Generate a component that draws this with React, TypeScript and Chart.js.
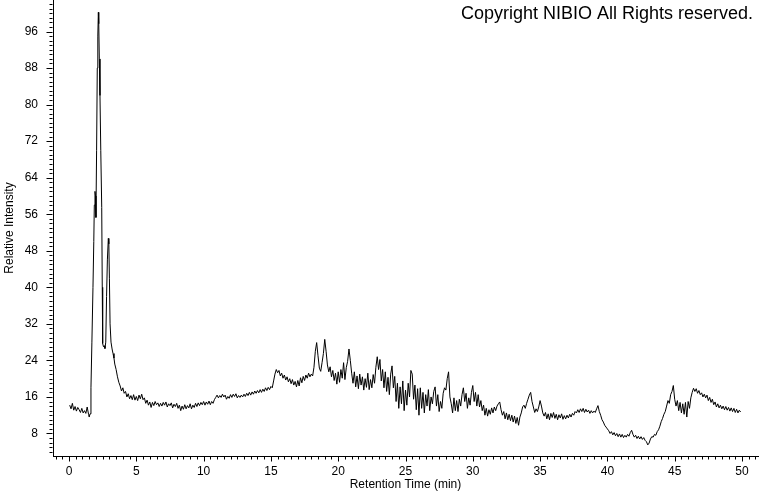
import React, { useEffect, useRef } from "react";
import { Chart, registerables } from "chart.js";

Chart.register(...registerables);

// ---- text ----
const COPYRIGHT_TEXT = "Copyright NIBIO All Rights reserved.";
const X_TITLE = "Retention Time (min)";
const Y_TITLE = "Relative Intensity";

// ---- axis ranges / tick steps ----
const X_MIN = -1.19;
const X_MAX = 51.19;
const Y_MIN = 3.07;
const Y_MAX = 102.9;
const X_LABEL_STEP = 5;
const X_MINOR_STEP = 0.5;
const Y_LABEL_STEP = 8;
const Y_MINOR_STEP = 1;

// ---- data (relative intensity vs retention time, min) ----
// baseline before the solvent peaks: t = 0.05 .. 1.45, every 0.1 min
const BASE_START = 0.05;
const BASE_STEP = 0.1;
const baselineStart = [14.2, 13.4, 14.6, 13.1, 13.9, 12.9, 13.7, 13.2, 12.6, 13.5, 12.5, 13.0, 12.4, 13.8, 12.2];

// the large early peaks (irregular sampling)
const peakTimes = [1.5, 1.56, 1.63, 1.7, 1.78, 1.84, 1.88, 1.93, 1.97, 2.0, 2.05, 2.1, 2.14, 2.18, 2.21, 2.25, 2.3, 2.36, 2.43, 2.47, 2.5, 2.56, 2.62, 2.67, 2.73, 2.79, 2.85, 2.92, 2.96, 3.0, 3.05, 3.12, 3.2, 3.27, 3.34];
const peakIntensity = [11.6, 12.3, 18.0, 28.0, 40.0, 50.0, 58.0, 61.0, 60.0, 55.3, 70.0, 88.0, 95.0, 100.2, 97.7, 90.0, 82.0, 70.0, 57.5, 40.0, 27.7, 27.0, 27.2, 26.6, 28.0, 38.0, 46.0, 50.7, 49.5, 42.0, 32.0, 28.0, 26.5, 25.5, 24.5];

// remainder of the trace: t = 3.4 .. 49.9, every 0.1 min
const TAIL_START = 3.4;
const TAIL_STEP = 0.1;
const trace3to10 = [
  23.2, 22.0, 20.4, 19.2, 18.4, 17.3, 18.0,
  16.8, 17.2, 16.0, 16.7, 15.6, 16.3, 15.4, 16.5, 15.3, 16.1,
  15.2, 16.4, 15.6, 16.6, 15.4, 15.8, 14.6, 15.3, 14.2, 14.9,
  13.7, 14.8, 14.1, 15.0, 14.3, 14.7, 13.9, 14.6, 14.0, 14.8,
  14.2, 14.9, 13.8, 14.5, 14.1, 14.7, 13.6, 14.4, 13.9, 14.6,
  13.5, 14.2, 13.0, 14.0, 13.3, 14.3, 13.4, 14.1, 13.6, 14.5,
  13.4, 14.2, 13.7, 14.6, 13.9, 14.7, 14.1, 14.8, 14.3, 15.0,
];
const trace10to20 = [
  14.2, 14.9, 14.4, 15.1, 14.3, 15.0, 14.6, 15.4, 15.9, 16.4,
  15.8, 16.3, 15.9, 16.6, 16.0, 16.4, 15.5, 16.1, 15.7, 16.5,
  15.9, 16.6, 16.1, 16.7, 15.8, 16.3, 15.9, 16.4, 16.0, 16.6,
  16.1, 16.8, 16.3, 17.0, 16.4, 17.1, 16.6, 17.3, 16.8, 17.4,
  16.9, 17.6, 17.0, 17.7, 17.2, 18.0, 17.4, 18.1, 17.6, 18.3,
  18.0, 19.5, 21.0, 22.0, 21.3, 21.8, 20.6, 21.2, 20.1, 20.8,
  19.7, 20.4, 19.3, 20.0, 18.9, 19.8, 18.6, 19.4, 18.2, 19.6,
  18.4, 20.2, 19.1, 20.5, 19.6, 20.8, 20.1, 21.2, 20.4, 21.0,
  20.6, 22.5, 26.0, 27.9, 25.0, 22.3, 21.6, 23.5, 25.5, 28.6,
  26.0, 23.0, 21.5, 22.6, 20.4, 21.8, 19.6, 21.2, 18.8, 21.5,
];
const trace20to30 = [
  19.2, 22.0, 20.1, 23.5, 19.8, 22.4, 23.8, 26.5, 24.0, 21.2,
  19.0, 21.5, 18.2, 20.6, 17.8, 21.0, 18.6, 20.4, 17.5, 20.0,
  18.1, 21.2, 17.6, 19.8, 18.0, 20.9, 19.0, 22.5, 24.8, 22.0,
  24.2, 19.5, 22.0, 18.0, 21.5, 17.2, 20.3, 16.5, 21.0, 22.8,
  18.0, 20.5, 15.0, 19.0, 13.5, 18.2, 14.5, 19.5, 13.0, 17.5,
  14.2, 19.0, 16.0, 21.8, 21.0, 15.5, 18.6, 13.2, 17.8, 12.0,
  18.0, 13.5, 17.0, 12.5, 16.5, 14.0, 17.6, 13.0, 16.0, 14.5,
  17.2, 18.2, 14.0, 16.5, 12.8, 15.0, 13.5, 16.8, 18.0, 17.5,
  20.0, 21.5, 16.0, 14.5, 12.5, 15.8, 13.0, 15.2, 12.8, 15.5,
  14.0, 16.5, 18.0, 15.0, 16.8, 13.5, 15.8, 14.2, 17.0, 18.5,
];
const trace30to40 = [
  15.0, 17.0, 14.0, 16.5, 13.8, 15.2, 13.0, 14.2, 12.0, 13.5,
  11.8, 13.2, 12.2, 13.6, 12.5, 13.8, 13.0, 14.0, 14.5, 14.9,
  13.2, 12.0, 12.8, 11.2, 12.5, 11.0, 12.2, 10.8, 12.0, 10.5,
  11.8, 10.2, 11.5, 9.8, 11.6, 12.5, 13.8, 14.2, 13.5, 14.6,
  15.5, 16.4, 17.0, 15.0, 13.8, 12.6, 13.4, 12.8, 13.8, 15.2,
  14.0, 12.5, 11.8, 12.6, 11.2, 12.3, 11.0, 12.4, 11.5, 12.6,
  11.3, 12.2, 11.0, 12.1, 11.4, 12.3, 11.1, 11.9, 11.2, 12.0,
  11.4, 12.2, 11.6, 12.4, 12.0, 12.8, 12.5, 13.2, 12.6, 13.4,
  12.8, 13.5, 12.6, 13.3, 12.7, 13.1, 12.4, 13.0, 12.5, 12.9,
  12.6, 13.4, 14.1, 12.8, 12.0, 11.0, 10.5, 9.8, 9.4, 9.0,
];
const trace40to50 = [
  8.6, 8.0, 8.4, 7.7, 8.2, 7.5, 8.0, 7.3, 7.9, 7.2,
  7.8, 7.1, 7.6, 7.2, 7.8, 7.4, 8.2, 8.7, 7.8, 7.2,
  7.6, 6.9, 7.4, 6.8, 7.3, 6.7, 7.1, 6.5, 6.2, 5.5,
  5.9, 6.8, 7.3, 7.2, 7.8, 7.6, 8.4, 8.8, 9.6, 10.6,
  11.3, 12.2, 12.8, 14.0, 15.2, 14.6, 16.5, 17.2, 18.5, 15.5,
  14.0, 15.2, 13.0, 14.8, 12.5, 14.5, 12.2, 14.8, 11.6, 15.0,
  13.5, 15.8, 17.0, 17.9, 17.2, 17.8, 16.8, 17.4, 16.5, 16.9,
  16.0, 16.6, 15.8, 16.4, 15.2, 15.9, 14.8, 15.5, 14.3, 14.9,
  13.8, 14.5, 13.6, 14.2, 13.4, 14.0, 13.2, 13.9, 13.1, 13.7,
  12.9, 13.6, 12.8, 13.5, 12.6, 13.3, 12.5, 13.1, 12.7,
];

const FONT_FAMILY = '"Liberation Sans", Arial, sans-serif';

function buildPoints() {
  const pts: { x: number; y: number }[] = [];
  baselineStart.forEach((v, i) => pts.push({ x: +(BASE_START + i * BASE_STEP).toFixed(3), y: v }));
  peakTimes.forEach((t, i) => pts.push({ x: t, y: peakIntensity[i] }));
  const tail = [...trace3to10, ...trace10to20, ...trace20to30, ...trace30to40, ...trace40to50];
  tail.forEach((v, i) => pts.push({ x: +(TAIL_START + i * TAIL_STEP).toFixed(3), y: v }));
  return pts;
}

const axisDecorPlugin = {
  id: "axisDecor",
  afterDraw(chart: any) {
    const { ctx, chartArea, scales } = chart;
    const xs = scales.x;
    const ys = scales.y;
    ctx.save();
    ctx.strokeStyle = "#000";
    ctx.lineWidth = 1;
    ctx.beginPath();
    const axisX = Math.round(chartArea.left) - 0.5;
    for (let k = Math.ceil(Y_MIN / Y_MINOR_STEP); k * Y_MINOR_STEP <= Y_MAX; k++) {
      const v = k * Y_MINOR_STEP;
      const py = Math.round(ys.getPixelForValue(v)) + 0.5;
      const len = v % Y_LABEL_STEP === 0 ? 6 : 3;
      ctx.moveTo(axisX, py);
      ctx.lineTo(axisX - len, py);
    }
    const axisY = Math.round(chartArea.bottom) + 0.5;
    for (let k = Math.ceil(X_MIN / X_MINOR_STEP); k * X_MINOR_STEP <= X_MAX; k++) {
      const v = k * X_MINOR_STEP;
      const px = Math.round(xs.getPixelForValue(v)) + 0.5;
      const len = Math.abs(v % X_LABEL_STEP) < 1e-9 ? 5 : 3;
      ctx.moveTo(px, axisY);
      ctx.lineTo(px, axisY + len);
    }
    ctx.stroke();
    ctx.fillStyle = "#000";
    ctx.font = `18px ${FONT_FAMILY}`;
    ctx.textAlign = "right";
    ctx.textBaseline = "middle";
    ctx.fillText(COPYRIGHT_TEXT, chartArea.right - 5, 14);
    ctx.restore();
  },
};

export default function App() {
  const canvasRef = useRef<HTMLCanvasElement | null>(null);

  useEffect(() => {
    const canvas = canvasRef.current;
    if (!canvas) return;
    const tickFont = { family: FONT_FAMILY, size: 12 };
    const chart = new Chart(canvas, {
      type: "line",
      data: {
        datasets: [
          {
            data: buildPoints(),
            borderColor: "#000",
            borderWidth: 1,
            pointRadius: 0,
            tension: 0,
            fill: false,
          },
        ],
      },
      options: {
        responsive: false,
        animation: false,
        events: [],
        layout: { padding: { left: 0, right: 2, top: 0, bottom: 0 } },
        plugins: { legend: { display: false }, tooltip: { enabled: false }, title: { display: false } },
        scales: {
          x: {
            type: "linear",
            min: X_MIN,
            max: X_MAX,
            afterFit: (s: any) => {
              s.height = 36;
              s.paddingLeft = 0;
              s.paddingRight = 0;
            },
            grid: { display: false, drawTicks: false },
            border: { display: true, color: "#000", width: 1 },
            ticks: {
              stepSize: X_LABEL_STEP,
              includeBounds: false,
              autoSkip: false,
              maxRotation: 0,
              color: "#000",
              font: tickFont,
              padding: 8,
            },
            title: { display: true, text: X_TITLE, color: "#000", font: tickFont, padding: { top: 0, bottom: 0 } },
          },
          y: {
            type: "linear",
            min: Y_MIN,
            max: Y_MAX,
            afterFit: (s: any) => {
              s.width = 53;
              s.paddingTop = 0;
              s.paddingBottom = 0;
            },
            grid: { display: false, drawTicks: false },
            border: { display: true, color: "#000", width: 1 },
            ticks: {
              stepSize: Y_LABEL_STEP,
              includeBounds: false,
              autoSkip: false,
              color: "#000",
              font: tickFont,
              padding: 15,
            },
            title: { display: true, text: Y_TITLE, color: "#000", font: tickFont, padding: { top: 2, bottom: 0 } },
          },
        },
      },
      plugins: [axisDecorPlugin],
    });
    return () => chart.destroy();
  }, []);

  return (
    <div style={{ position: "fixed", left: 0, top: 0, width: 760, height: 492, background: "#fff" }}>
      <canvas ref={canvasRef} width={760} height={492} style={{ display: "block" }} />
    </div>
  );
}
